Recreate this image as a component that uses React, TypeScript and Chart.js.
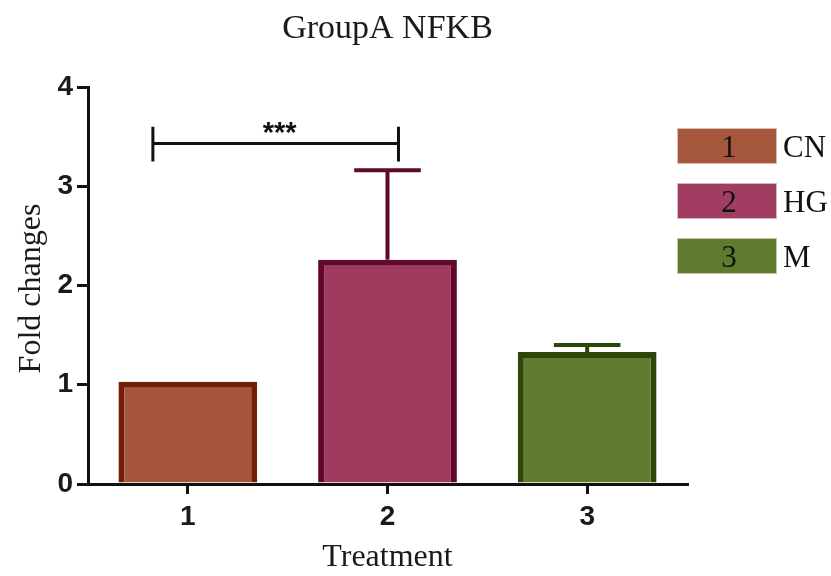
import React, { useEffect, useRef } from 'react';
import { Chart, registerables } from 'chart.js';

Chart.register(...registerables);

// ---- data ----
const categories = ['1', '2', '3'];
const groupNames = ['CN', 'HG', 'M'];
const means = [1.03, 2.26, 1.33];
const errors = [0, 0.9, 0.07];
const yTicks = [0, 1, 2, 3, 4];
const fillColors = ['#A5553C', '#A03A5F', '#5E7B2E'];
const borderColors = ['#731E05', '#5F0A2D', '#2D460A'];
const legendFill = ['#A5573D', '#A13D62', '#5E7B2E'];
// significance bracket (category index units / value units)
const sigFrom = -0.175;
const sigTo = 1.055;
const sigY = 3.43;
const sigTickTop = 3.6;
const sigTickBottom = 3.25;
const sigLabel = '***';
const chartTitle = 'GroupA NFKB';
const xTitle = 'Treatment';
const yTitle = 'Fold changes';

const SERIF = '"Liberation Serif", "Times New Roman", serif';
const SANS = '"Liberation Sans", Arial, sans-serif';

const overlayPlugin = {
  id: 'overlay',
  afterDatasetsDraw(chart: any) {
    const ctx = chart.ctx;
    const x = chart.scales.x;
    const y = chart.scales.y;
    const meta = chart.getDatasetMeta(0);
    ctx.save();
    // error bars (upper only)
    meta.data.forEach((bar: any, i: number) => {
      if (!errors[i]) return;
      const top = y.getPixelForValue(means[i] + errors[i]);
      const base = y.getPixelForValue(means[i]);
      ctx.strokeStyle = borderColors[i];
      ctx.lineWidth = 4;
      ctx.lineCap = 'butt';
      ctx.beginPath();
      ctx.moveTo(bar.x, base);
      ctx.lineTo(bar.x, top);
      ctx.stroke();
      const half = bar.width * 0.24;
      ctx.beginPath();
      ctx.moveTo(bar.x - half, top);
      ctx.lineTo(bar.x + half, top);
      ctx.stroke();
    });
    // significance bracket
    const x1 = x.getPixelForValue(sigFrom);
    const x2 = x.getPixelForValue(sigTo);
    const yb = y.getPixelForValue(sigY);
    ctx.strokeStyle = '#111';
    ctx.lineWidth = 3;
    ctx.beginPath();
    ctx.moveTo(x1, yb);
    ctx.lineTo(x2, yb);
    ctx.moveTo(x1, y.getPixelForValue(sigTickTop));
    ctx.lineTo(x1, y.getPixelForValue(sigTickBottom));
    ctx.moveTo(x2, y.getPixelForValue(sigTickTop));
    ctx.lineTo(x2, y.getPixelForValue(sigTickBottom));
    ctx.stroke();
    ctx.fillStyle = '#111';
    ctx.font = `bold 29px ${SANS}`;
    ctx.textAlign = 'center';
    ctx.textBaseline = 'alphabetic';
    ctx.fillText(sigLabel, (x1 + x2) / 2 + 4, yb - 2);
    ctx.restore();
  },
  afterDraw(chart: any) {
    const ctx = chart.ctx;
    const area = chart.chartArea;
    ctx.save();
    ctx.fillStyle = '#1a1a1a';
    // title
    ctx.font = `34px ${SERIF}`;
    ctx.textAlign = 'center';
    ctx.textBaseline = 'alphabetic';
    ctx.fillText(chartTitle, (area.left + area.right) / 2, 38);
    // x title
    ctx.font = `32px ${SERIF}`;
    ctx.fillText(xTitle, (area.left + area.right) / 2, 566);
    // y title
    ctx.save();
    ctx.translate(40, (area.top + area.bottom) / 2 + 3);
    ctx.rotate(-Math.PI / 2);
    ctx.fillText(yTitle, 0, 0);
    ctx.restore();
    // legend
    const bx = 677;
    const bw = 100;
    const bh = 36;
    categories.forEach((c, i) => {
      const by = 128 + i * 55;
      ctx.fillStyle = legendFill[i];
      ctx.fillRect(bx, by, bw, bh);
      ctx.strokeStyle = 'rgba(255,255,255,0.6)';
      ctx.lineWidth = 1;
      ctx.strokeRect(bx + 0.5, by + 0.5, bw - 1, bh - 1);
      ctx.fillStyle = '#111';
      ctx.font = `31px ${SERIF}`;
      ctx.textAlign = 'center';
      ctx.fillText(c, bx + bw / 2 + 2, by + 29);
      ctx.textAlign = 'left';
      ctx.fillText(groupNames[i], bx + bw + 6, by + 29);
    });
    ctx.restore();
  },
};

export default function App() {
  const ref = useRef<HTMLCanvasElement>(null);
  useEffect(() => {
    if (!ref.current) return;
    const chart = new Chart(ref.current, {
      type: 'bar',
      data: {
        labels: categories,
        datasets: [
          {
            data: means,
            backgroundColor: fillColors,
            borderColor: borderColors,
            borderWidth: 6,
            barPercentage: 0.695,
            categoryPercentage: 1,
          },
        ],
      },
      options: {
        responsive: false,
        animation: false,
        devicePixelRatio: 1,
        layout: { padding: { left: 0, right: 144, top: 87, bottom: 0 } },
        plugins: {
          legend: { display: false },
          title: { display: false },
          tooltip: { enabled: false },
        },
        scales: {
          x: {
            offset: true,
            grid: {
              offset: false,
              drawOnChartArea: false,
              drawTicks: true,
              tickLength: 10,
              lineWidth: 3,
              color: '#111',
            },
            border: { display: true, color: '#111', width: 3 },
            ticks: {
              color: '#1a1a1a',
              font: { family: SANS, size: 28, weight: 'bold' },
              padding: 6,
            },
            afterFit: (s: any) => {
              s.height = 92;
            },
          },
          y: {
            min: 0,
            max: 4,
            afterBuildTicks: (s: any) => {
              s.ticks = yTicks.map((v) => ({ value: v }));
            },
            grid: {
              drawOnChartArea: false,
              drawTicks: true,
              tickLength: 11,
              lineWidth: 3,
              color: '#111',
            },
            border: { display: true, color: '#111', width: 3 },
            ticks: {
              color: '#1a1a1a',
              font: { family: SANS, size: 28, weight: 'bold' },
              padding: 4,
            },
            afterFit: (s: any) => {
              s.width = 88;
            },
          },
        },
      },
      plugins: [overlayPlugin],
    });
    return () => chart.destroy();
  }, []);
  return (
    <div style={{ position: 'fixed', left: 0, top: 0, width: 831, height: 576, background: '#fff' }}>
      <canvas ref={ref} width={831} height={576} />
    </div>
  );
}
